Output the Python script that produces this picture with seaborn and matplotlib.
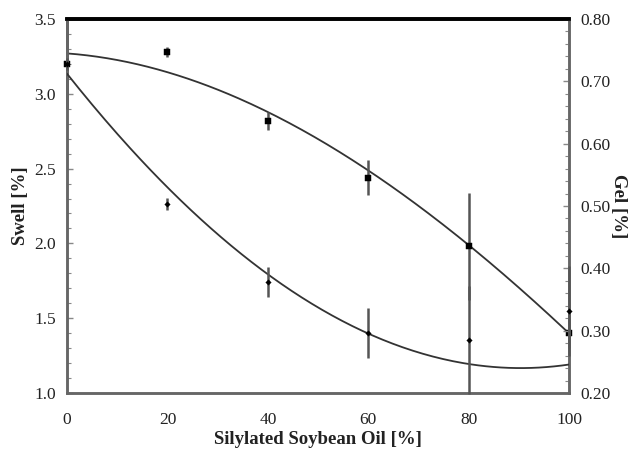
import numpy as np
import pandas as pd
import matplotlib
matplotlib.use("Agg")
import matplotlib.pyplot as plt
from matplotlib.ticker import MultipleLocator
import seaborn as sns

# Silylated soybean oil content [%]
sso = [0, 20, 40, 60, 80, 100]

# Swell [%] (left axis) with error bars
swell = [3.20, 3.28, 2.82, 2.44, 1.98, 1.40]
swell_err = [0.30, 0.035, 0.06, 0.115, 0.36, 0.10]

# Gel [%] (right axis) with error bars
gel = [0.728, 0.503, 0.378, 0.296, 0.285, 0.332]
gel_err = [0.01, 0.01, 0.024, 0.04, 0.087, 0.072]

# Trend-line values at the same compositions
swell_trend = [3.27, 3.146, 2.87, 2.50, 1.98, 1.40]
gel_trend = [0.711, 0.534, 0.386, 0.296, 0.248, 0.245]

sns.set_theme(style="white")
plt.rcParams["font.family"] = ["Liberation Serif", "DejaVu Serif"]

fig = plt.figure(figsize=(6.34, 4.5), dpi=100)
ax = fig.add_axes([0.1057, 0.1267, 0.792, 0.8311])
ax2 = ax.twinx()

grey = "#555555"
xs = np.linspace(0, 100, 200)

# Smooth fitted curves
sw_fit = np.polyval(np.polyfit(sso, swell_trend, 3), xs)
gel_fit = np.polyval(np.polyfit(sso, gel_trend, 3), xs)
sns.lineplot(x=xs, y=sw_fit, ax=ax, color="#333333", lw=1.3, zorder=3)
sns.lineplot(x=xs, y=gel_fit, ax=ax2, color="#333333", lw=1.3, zorder=3)

# Measured points with error bars
ax.errorbar(sso, swell, yerr=swell_err, fmt="none", ecolor=grey, elinewidth=1.8,
            capsize=0, zorder=4, clip_on=False)
sns.scatterplot(x=sso, y=swell, ax=ax, marker="s", s=16, color="black",
                edgecolor="black", zorder=5, clip_on=False)
ax2.errorbar(sso, gel, yerr=gel_err, fmt="none", ecolor=grey, elinewidth=1.8,
             capsize=0, zorder=4, clip_on=False)
sns.scatterplot(x=sso, y=gel, ax=ax2, marker="D", s=8, color="black",
                edgecolor="black", zorder=5, clip_on=False)

ax.set_xlim(0, 100)
ax.set_ylim(1.0, 3.5)
ax2.set_ylim(0.20, 0.80)

ax.xaxis.set_major_locator(MultipleLocator(20))
ax.xaxis.set_minor_locator(MultipleLocator(4))
ax.yaxis.set_major_locator(MultipleLocator(0.5))
ax.yaxis.set_minor_locator(MultipleLocator(0.1))
ax2.yaxis.set_major_locator(MultipleLocator(0.1))
ax2.yaxis.set_minor_locator(MultipleLocator(0.02))

ax.set_yticklabels([f"{v:.1f}" for v in ax.get_yticks()])
ax2.set_yticklabels([f"{v:.2f}" for v in ax2.get_yticks()])

for a in (ax, ax2):
    a.tick_params(which="both", direction="in", colors="#888888",
                  labelcolor="#222222", labelsize=12.5)
    a.tick_params(which="major", length=4, width=1)
    a.tick_params(which="minor", length=3, width=0.8)
    for s in a.spines.values():
        s.set_color("#666666")
        s.set_linewidth(1.8)
    a.spines["top"].set_color("black")
    a.spines["top"].set_linewidth(2.6)
ax.tick_params(axis="x", pad=14)
ax.tick_params(axis="y", pad=8)
ax2.tick_params(axis="y", pad=8)

ax.set_xlabel("Silylated Soybean Oil [%]", fontsize=13.5, fontweight="bold",
              color="#222222", labelpad=2)
ax.set_ylabel("Swell [%]", fontsize=13.5, fontweight="bold", color="#222222",
              labelpad=4)
ax2.set_ylabel("Gel [%]", fontsize=13.5, fontweight="bold", color="#222222",
               rotation=270, labelpad=12)

fig.savefig("out.png", dpi=100)
